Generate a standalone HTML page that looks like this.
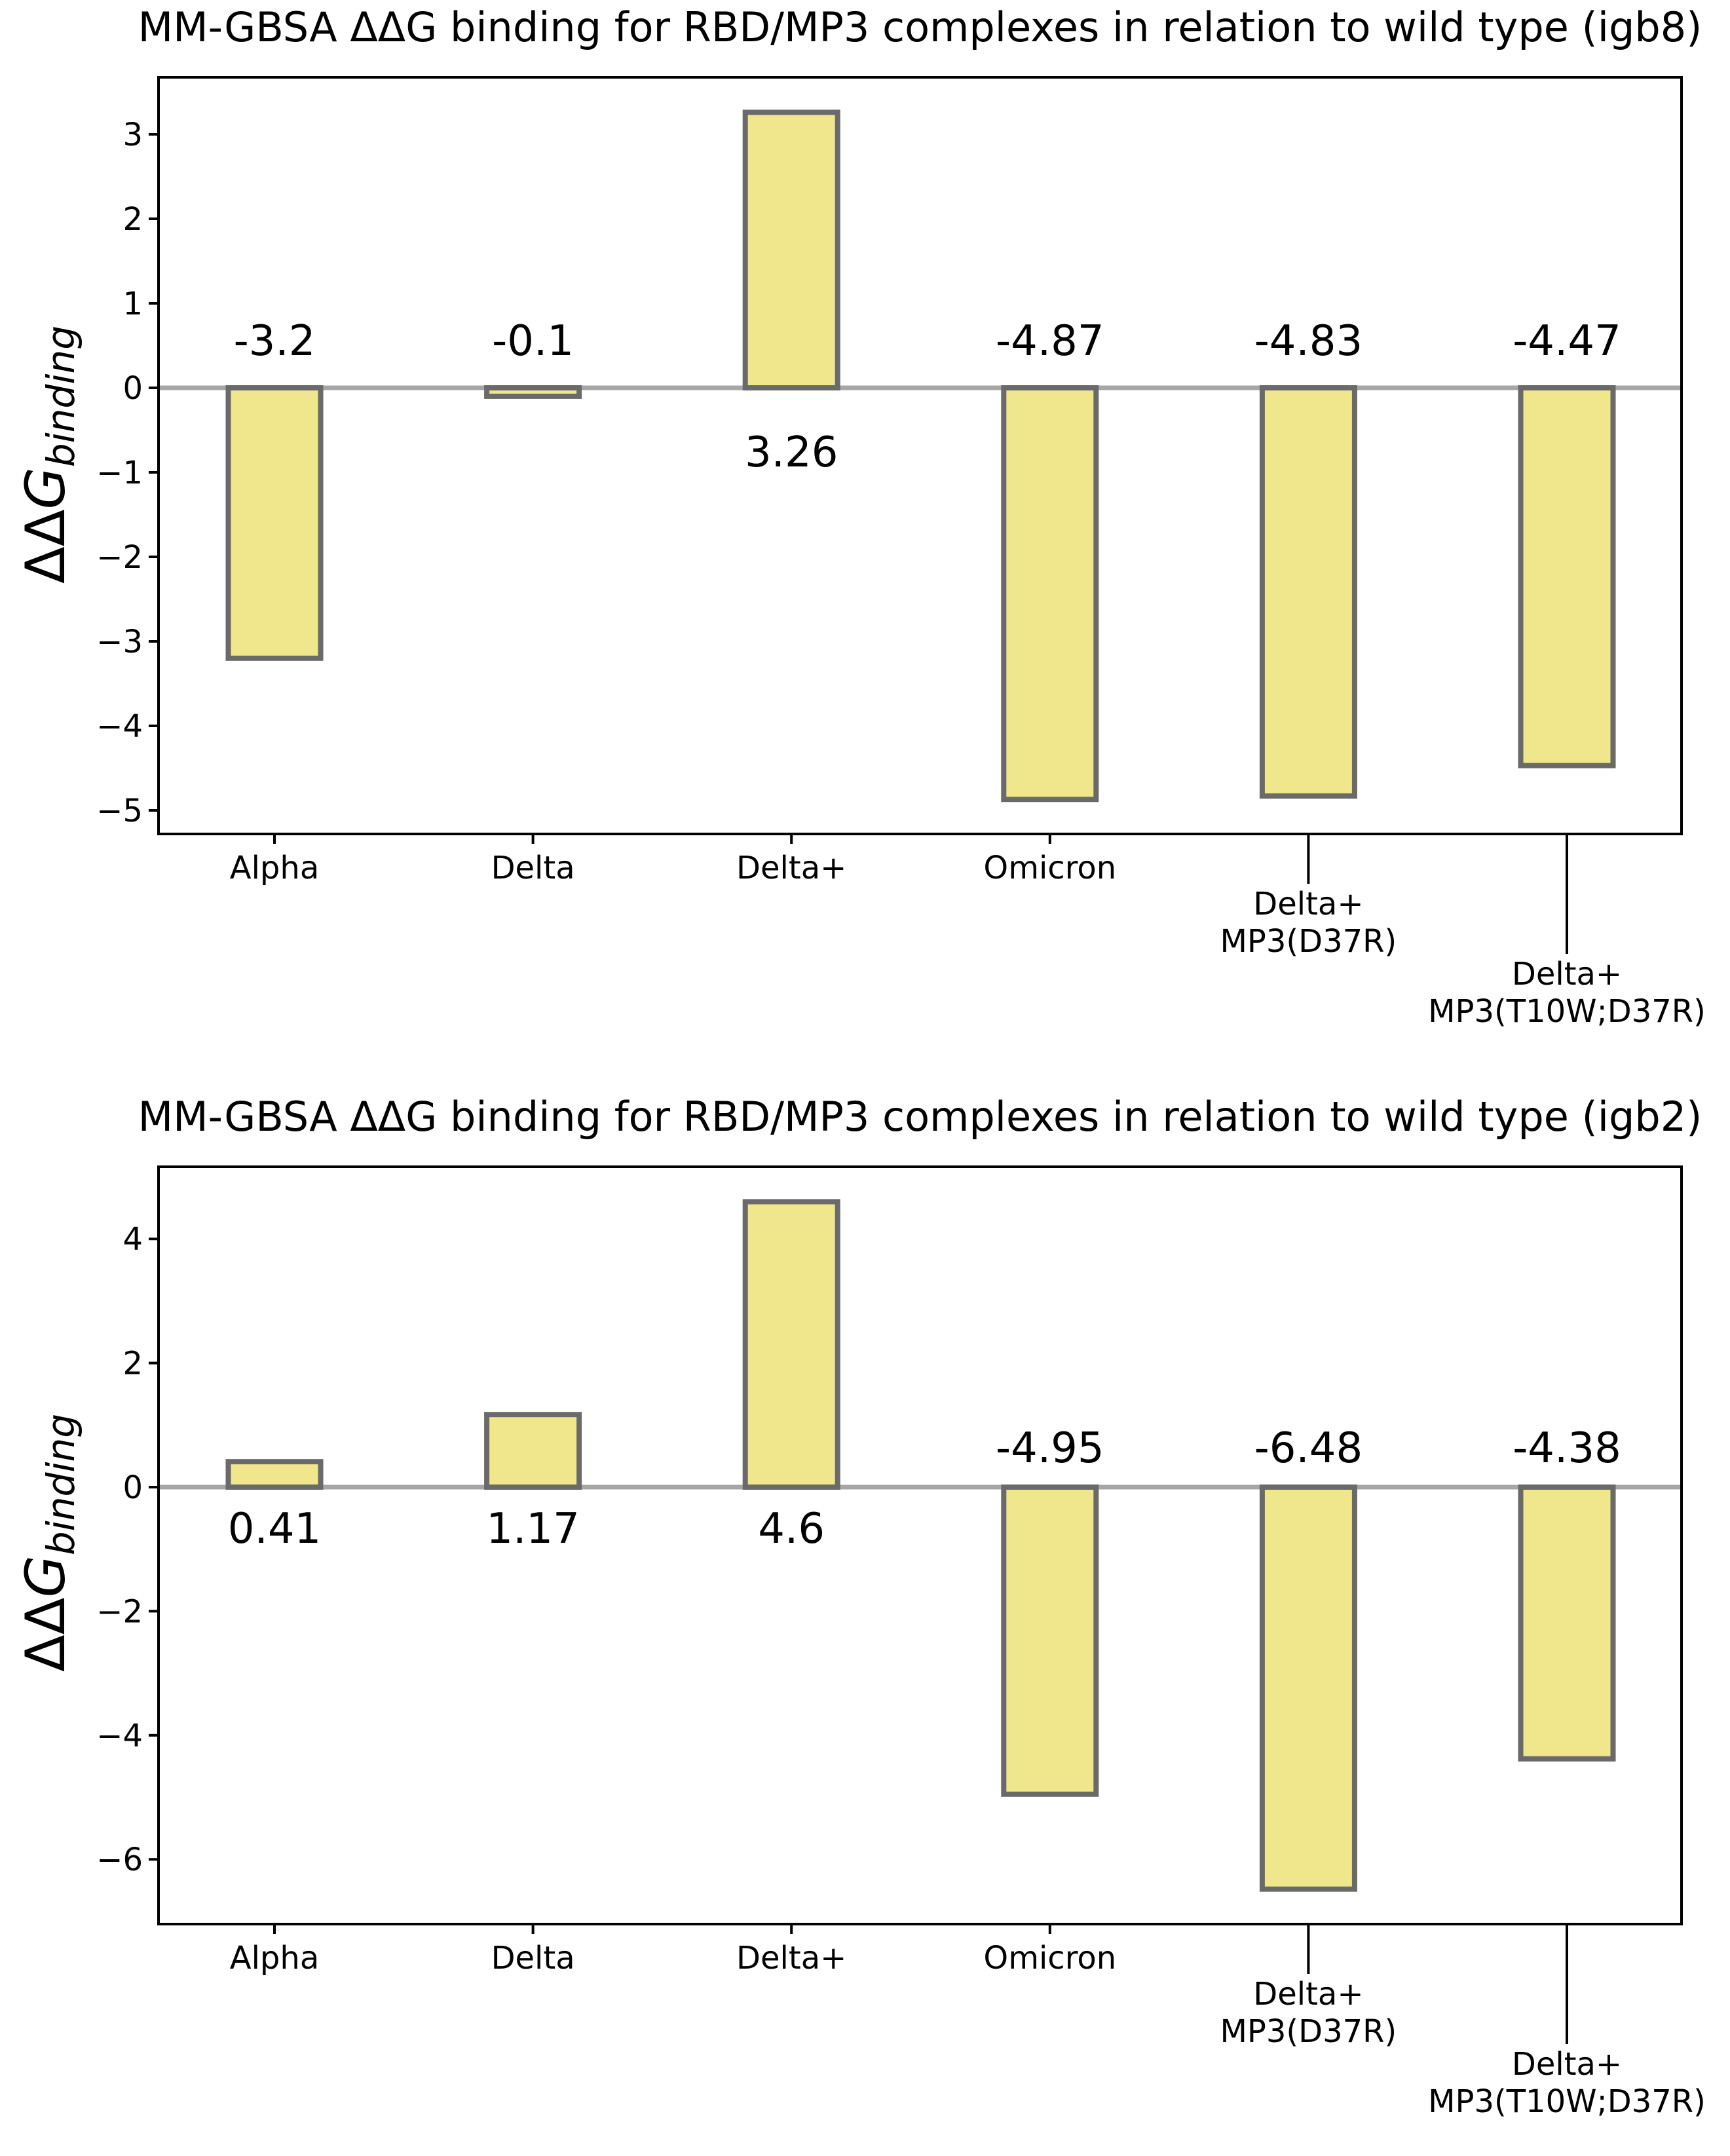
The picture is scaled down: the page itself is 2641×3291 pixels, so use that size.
<!DOCTYPE html>
<html><head><meta charset="utf-8"><style>
html,body{margin:0;padding:0;background:#fff;}
svg{display:block;font-family:"DejaVu Sans","Liberation Sans",sans-serif;}
</style></head><body>
<svg id="fig" width="2641" height="3291" viewBox="0 0 2641 3291" xmlns="http://www.w3.org/2000/svg"></svg>
<script>
const categories = ["Alpha","Delta","Delta+","Omicron","Delta+\nMP3(D37R)","Delta+\nMP3(T10W;D37R)"];
const igb8Values = [-3.2,-0.1,3.26,-4.87,-4.83,-4.47];
const igb2Values = [0.41,1.17,4.6,-4.95,-6.48,-4.38];
const igb8Ticks = [3,2,1,0,-1,-2,-3,-4,-5];
const igb2Ticks = [4,2,0,-2,-4,-6];
const tickLong = [false,false,false,false,true,true];

const NS="http://www.w3.org/2000/svg";
const svg=document.getElementById('fig');
function mk(tag,attrs,parent){const e=document.createElementNS(NS,tag);for(const k in attrs)e.setAttribute(k,attrs[k]);(parent||svg).appendChild(e);return e;}

const L=242,R=2567;
function xScale(i){return 419+i*394.6;}

function panel(cfg){
  const g=mk('g',{});
  
  
  const y=v=>cfg.zero-v*cfg.unit;
  const t=mk('text',{x:(L+R)/2,y:cfg.top-55,'font-size':62,'text-anchor':'middle',fill:'#000'},g);
  t.textContent=cfg.title;
  
  
  const zl=mk('line',{x1:L,x2:R,y1:y(0),y2:y(0),stroke:'#a6a6a6','stroke-width':7},g);
  
  
  cfg.values.forEach((v,i)=>{
    const cx=xScale(i),w=141;
    const top=Math.min(y(0),y(v)),h=Math.abs(y(v)-y(0));
    const b=mk('rect',{x:cx-w/2,y:top,width:w,height:h,fill:'#f0e68c',stroke:'#6a6a6a','stroke-width':8},g);
    
    
    const lab=mk('text',{x:cx,y:v>=0?y(0)+cfg.posOff:y(0)-cfg.negOff,'font-size':64,'text-anchor':'middle',fill:'#000'},g);
    lab.textContent=String(v);
    
    
  });
  const fr=mk('rect',{x:L,y:cfg.top,width:R-L,height:cfg.bottom-cfg.top,fill:'none',stroke:'#000','stroke-width':4},g);
  
  
  cfg.ticks.forEach(v=>{
    const tk=mk('line',{x1:L-15,x2:L,y1:y(v),y2:y(v),stroke:'#000','stroke-width':4},g);
    
    
    const tl=mk('text',{x:L-24,y:y(v)+17,'font-size':48,'text-anchor':'end',fill:'#000'},g);
    tl.textContent=v<0?'\u2212'+Math.abs(v):String(v);
    
    
  });
  categories.forEach((c,i)=>{
    const cx=xScale(i);
    const len = i===5?183:(tickLong[i]?76:15);
    const tk=mk('line',{x1:cx,x2:cx,y1:cfg.bottom,y2:cfg.bottom+len,stroke:'#000','stroke-width':4},g);
    
    
    const lines=c.split('\n');
    const base=cfg.bottom+len+(len===15?53:47);
    const tl=mk('text',{x:cx,y:base,'font-size':48,'text-anchor':'middle',fill:'#000'},g);
    
    
    lines.forEach((ln,j)=>{const s=mk('tspan',{x:cx,dy:j===0?0:57},tl);s.textContent=ln;});
  });
  const yl=mk('text',{x:0,y:0,'font-size':83,'font-style':'italic','text-anchor':'middle',fill:'#000',transform:`translate(98 ${cfg.ylabY}) rotate(-90)`},g);
  
  
  const a=mk('tspan',{'font-style':'normal'},yl);a.textContent='ΔΔ';
  const b2=mk('tspan',{},yl);b2.textContent='G';
  const c2=mk('tspan',{'font-size':58,dy:15},yl);c2.textContent='binding';
}

panel({name:'igb8-panel',title:'MM-GBSA ΔΔG binding for RBD/MP3 complexes in relation to wild type (igb8)',
  values:igb8Values,ticks:igb8Ticks,top:118,bottom:1273,zero:592,unit:129,posOff:120,negOff:50,ylabY:694});
panel({name:'igb2-panel',title:'MM-GBSA ΔΔG binding for RBD/MP3 complexes in relation to wild type (igb2)',
  values:igb2Values,ticks:igb2Ticks,top:1781,bottom:2937,zero:2270,unit:94.7,posOff:85,negOff:38,ylabY:2355});
</script>
</body></html>
